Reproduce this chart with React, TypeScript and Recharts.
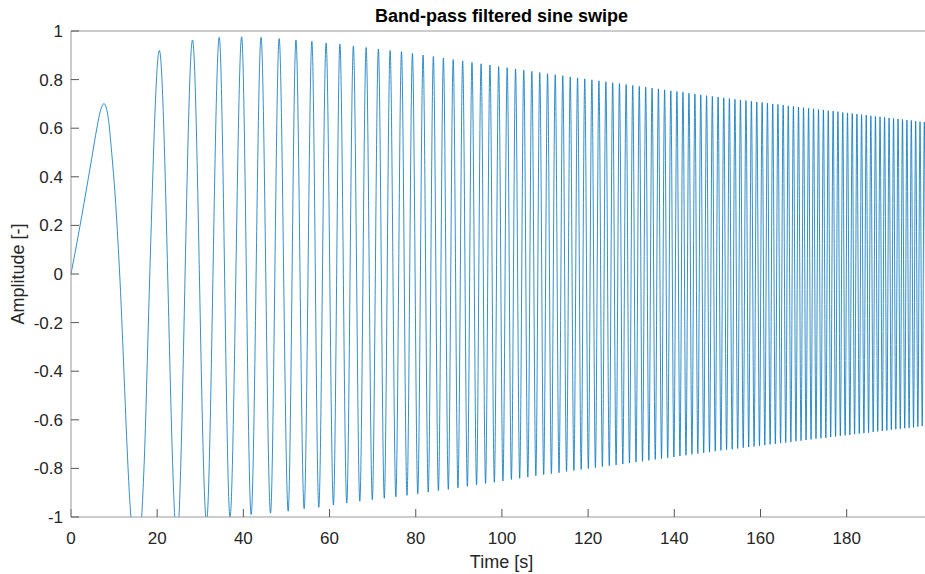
import { LineChart, Line, XAxis, YAxis } from "recharts";

const FONT = '"Liberation Sans", Arial, Helvetica, sans-serif';

// first lobe of the sweep, read point by point
const leadTimes = [0, 1.7, 3.3, 4.8, 6.0, 6.8, 7.66, 8.66, 9.44, 10.37, 11.15, 13.9, 15.15, 16.4, 17.2, 17.75, 18.3];
const leadValues = [0, 0.16, 0.32, 0.475, 0.6, 0.67, 0.701, 0.64, 0.5, 0.29, 0.05, -1.0, -1.2, -1.0, -0.67, -0.33, 0.01];

// positive peaks [s] and their amplitude
const peakTimes = [
  20.5, 28.2, 34.4, 39.6, 44.1, 48.3, 52.2, 55.9, 59.2, 62.4,
  65.53, 68.49, 71.33, 74.05, 76.69, 79.23, 81.7, 84.09, 86.42, 88.69,
  90.89, 93.05, 95.16, 97.22, 99.24, 101.22, 103.16, 105.07, 106.94, 108.78,
  110.59, 112.37, 114.12, 115.85, 117.55, 119.22, 120.88, 122.51, 124.12, 125.7,
  127.27, 128.82, 130.35, 131.87, 133.36, 134.84, 136.31, 137.75, 139.19, 140.61,
  142.01, 143.4, 144.78, 146.14, 147.49, 148.83, 150.16, 151.48, 152.78, 154.07,
  155.35, 156.63, 157.89, 159.14, 160.38, 161.61, 162.84, 164.05, 165.26, 166.45,
  167.64, 168.82, 169.99, 171.16, 172.31, 173.46, 174.6, 175.73, 176.86, 177.97,
  179.09, 180.19, 181.29, 182.38, 183.46, 184.54, 185.61, 186.68, 187.74, 188.79,
  189.84, 190.88, 191.92, 192.95, 193.98, 195.0, 196.01, 197.02, 198.02, 199.03,
];
const peakValues = [
  0.92, 0.963, 0.974, 0.976, 0.974, 0.969, 0.963, 0.958, 0.951, 0.946,
  0.938, 0.932, 0.926, 0.92, 0.915, 0.908, 0.901, 0.895, 0.889, 0.883,
  0.877, 0.871, 0.865, 0.86, 0.854, 0.849, 0.844, 0.839, 0.834, 0.829,
  0.824, 0.82, 0.816, 0.811, 0.807, 0.803, 0.799, 0.795, 0.791, 0.787,
  0.784, 0.78, 0.776, 0.772, 0.769, 0.765, 0.762, 0.758, 0.754, 0.751,
  0.748, 0.744, 0.741, 0.737, 0.734, 0.731, 0.728, 0.725, 0.722, 0.719,
  0.716, 0.714, 0.711, 0.708, 0.706, 0.703, 0.7, 0.698, 0.695, 0.692,
  0.69, 0.687, 0.685, 0.682, 0.68, 0.677, 0.675, 0.672, 0.67, 0.668,
  0.665, 0.663, 0.661, 0.658, 0.656, 0.654, 0.651, 0.649, 0.647, 0.645,
  0.642, 0.64, 0.638, 0.636, 0.634, 0.632, 0.629, 0.627, 0.625, 0.623,
];

// negative troughs [s] and their amplitude (early ones go past -1 and get clipped)
const troughTimes = [
  24.6, 31.45, 36.9, 41.8, 46.3, 50.4, 54.1, 57.5, 60.9, 63.99,
  67.02, 69.92, 72.7, 75.38, 77.97, 80.47, 82.9, 85.26, 87.56, 89.8,
  91.98, 94.11, 96.2, 98.24, 100.24, 102.2, 104.12, 106.01, 107.87, 109.69,
  111.48, 113.25, 114.99, 116.7, 118.39, 120.05, 121.69, 123.31, 124.91, 126.49,
  128.05, 129.59, 131.11, 132.62, 134.1, 135.58, 137.03, 138.47, 139.9, 141.31,
  142.71, 144.09, 145.46, 146.82, 148.16, 149.5, 150.82, 152.13, 153.43, 154.71,
  155.99, 157.26, 158.51, 159.76, 161.0, 162.23, 163.45, 164.66, 165.86, 167.05,
  168.23, 169.41, 170.57, 171.73, 172.88, 174.03, 175.17, 176.29, 177.42, 178.53,
  179.64, 180.74, 181.83, 182.92, 184.0, 185.08, 186.15, 187.21, 188.27, 189.32,
  190.36, 191.4, 192.44, 193.47, 194.49, 195.51, 196.52, 197.53, 198.53, 199.52,
];
const troughValues = [
  -1.09, -1.02, -1.0, -0.99, -0.984, -0.976, -0.966, -0.96, -0.951, -0.943,
  -0.935, -0.929, -0.923, -0.917, -0.911, -0.905, -0.898, -0.892, -0.886, -0.88,
  -0.874, -0.868, -0.862, -0.857, -0.852, -0.846, -0.841, -0.836, -0.831, -0.826,
  -0.822, -0.818, -0.813, -0.809, -0.805, -0.801, -0.797, -0.793, -0.789, -0.786,
  -0.782, -0.778, -0.774, -0.771, -0.767, -0.763, -0.76, -0.756, -0.753, -0.749,
  -0.746, -0.742, -0.739, -0.736, -0.733, -0.729, -0.726, -0.723, -0.721, -0.718,
  -0.715, -0.712, -0.71, -0.707, -0.704, -0.701, -0.699, -0.696, -0.694, -0.691,
  -0.688, -0.686, -0.683, -0.681, -0.678, -0.676, -0.674, -0.671, -0.669, -0.666,
  -0.664, -0.662, -0.659, -0.657, -0.655, -0.653, -0.65, -0.648, -0.646, -0.644,
  -0.641, -0.639, -0.637, -0.635, -0.633, -0.631, -0.628, -0.626, -0.624, -0.622,
];

const xTicks = [0, 20, 40, 60, 80, 100, 120, 140, 160, 180];
const yTicks = [-1, -0.8, -0.6, -0.4, -0.2, 0, 0.2, 0.4, 0.6, 0.8, 1];

const zip = (ts: number[], vs: number[]) =>
  ts.slice(0, Math.min(ts.length, vs.length)).map((t, i) => ({ t, v: vs[i] }));

const data = [
  ...zip(leadTimes, leadValues),
  ...zip(peakTimes, peakValues),
  ...zip(troughTimes, troughValues),
].sort((a, b) => a.t - b.t);

const tickStyle = { fill: "#262626", fontSize: 17, fontFamily: FONT };
const spine = { stroke: "#999999" };
const tickLn = { stroke: "#555555" };

export default function App() {
  return (
    <div
      style={{
        position: "absolute",
        left: 0,
        top: 0,
        width: 925,
        height: 574,
        overflow: "hidden",
        background: "#fff",
        fontFamily: FONT,
      }}
    >
      <LineChart width={933} height={574} data={data} margin={{ top: 30, right: 0, bottom: 0, left: 0 }}>
        <XAxis
          dataKey="t"
          type="number"
          domain={[0, 199.8]}
          ticks={xTicks}
          interval={0}
          height={57}
          tickSize={-8}
          tickMargin={23}
          tick={tickStyle}
          tickLine={tickLn}
          axisLine={spine}
          label={{
            value: "Time [s]",
            position: "insideBottom",
            offset: 6,
            style: { fontSize: 18, fill: "#262626", fontFamily: FONT },
          }}
        />
        <XAxis
          xAxisId="top"
          orientation="top"
          type="number"
          domain={[0, 199.8]}
          ticks={xTicks}
          interval={0}
          height={1}
          tickSize={-8}
          tick={false}
          tickLine={tickLn}
          axisLine={spine}
          label={{
            value: "Band-pass filtered sine swipe",
            position: "top",
            offset: 8,
            style: { fontSize: 18, fontWeight: "bold", fill: "#000", fontFamily: FONT },
          }}
        />
        <YAxis
          type="number"
          domain={[-1, 1]}
          allowDataOverflow
          ticks={yTicks}
          interval={0}
          width={71}
          tickSize={-8}
          tickMargin={16}
          tick={tickStyle}
          tickLine={tickLn}
          axisLine={spine}
          label={{
            value: "Amplitude [-]",
            angle: -90,
            position: "insideLeft",
            offset: 18,
            style: { fontSize: 18, fill: "#262626", fontFamily: FONT, textAnchor: "middle" },
          }}
        />
        <YAxis
          yAxisId="right"
          orientation="right"
          type="number"
          domain={[-1, 1]}
          ticks={yTicks}
          interval={0}
          width={1}
          tickSize={-8}
          tick={false}
          tickLine={tickLn}
          axisLine={spine}
        />
        <Line
          type="monotone"
          dataKey="v"
          stroke="#0072BD"
          strokeWidth={0.8}
          dot={false}
          isAnimationActive={false}
        />
      </LineChart>
    </div>
  );
}
